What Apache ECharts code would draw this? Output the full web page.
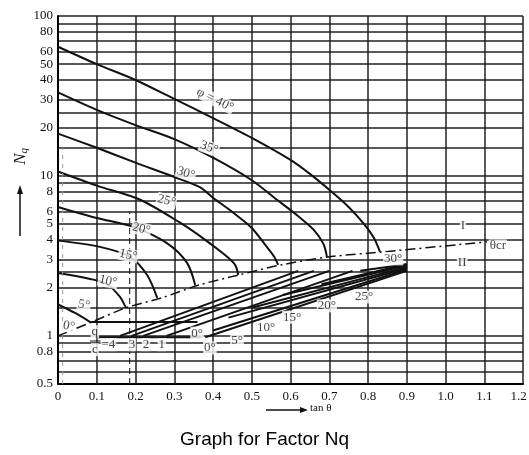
<!DOCTYPE html>
<html style="height: 100%">
<head>
<meta charset="utf-8">
<script src="https://cdn.jsdelivr.net/npm/echarts@6/dist/echarts.min.js"></script>
</head>
<body style="height: 100%; margin: 0; background: #fff">
<div id="container" style="width: 529px; height: 455px"></div>
<script type="text/javascript">
// tick / grid values
var xTicks = [0, 0.1, 0.2, 0.3, 0.4, 0.5, 0.6, 0.7, 0.8, 0.9, 1.0, 1.1, 1.2];
var yLabels = [0.5001, 0.6, 0.8, 1, 2, 3, 4, 5, 6, 8, 10, 20, 30, 40, 50, 60, 80, 100];
var yGrid = [0.6, 0.7, 0.8, 0.9, 1, 1.5, 2, 2.5, 3, 4, 5, 6, 7, 8, 9, 10, 15, 20, 25, 30, 40, 50, 60, 70, 80, 90, 100];

// region I curves: [tan theta, Nq]
var phi40 = [[0, 64.2], [0.1, 50], [0.2, 39.8], [0.3, 30.3], [0.4, 23], [0.5, 17.3], [0.6, 12.6], [0.65, 10.3], [0.7, 8.2], [0.75, 6.4], [0.79, 5.0], [0.815, 4.1], [0.831, 3.35]];
var phi35 = [[0, 33.3], [0.1, 25.9], [0.2, 20.8], [0.3, 17], [0.4, 13], [0.5, 9.4], [0.565, 7.1], [0.62, 5.6], [0.66, 4.6], [0.685, 3.76], [0.694, 3.12]];
var phi30 = [[0, 18.4], [0.1, 15], [0.2, 12.1], [0.3, 9.85], [0.366, 8.5], [0.4, 7.3], [0.45, 5.95], [0.5, 4.73], [0.535, 3.7], [0.558, 3.12], [0.568, 2.78]];
var phi25 = [[0, 10.66], [0.1, 8.7], [0.212, 7.1], [0.315, 5.1], [0.379, 4], [0.431, 3.2], [0.457, 2.78], [0.465, 2.4]];
var phi20 = [[0, 6.4], [0.1, 5.46], [0.194, 4.8], [0.281, 3.8], [0.333, 2.86], [0.354, 2.08]];
var phi15 = [[0, 3.94], [0.108, 3.6], [0.186, 3.12], [0.23, 2.4], [0.256, 1.73]];
var phi10 = [[0, 2.47], [0.083, 2.27], [0.126, 2.11], [0.16, 1.75], [0.175, 1.5]];
var phi5 = [[0, 1.57], [0.044, 1.39], [0.083, 1.22]];
var thetaCr = [[0, 1], [0.087, 1.22], [0.176, 1.5], [0.268, 1.73], [0.364, 2.08], [0.466, 2.4], [0.577, 2.78], [0.7, 3.12], [0.839, 3.35], [1.107, 3.87]];

// region II lines
var ii0 = [[0.38, 0.98], [0.9, 2.55]];
var ii5 = [[0.4, 1.08], [0.9, 2.6]];
var ii10 = [[0.44, 1.3], [0.9, 2.65]];
var ii15 = [[0.5, 1.5], [0.9, 2.7]];
var ii20 = [[0.58, 1.8], [0.9, 2.75]];
var ii25 = [[0.68, 2.1], [0.9, 2.8]];
var ii30 = [[0.78, 2.55], [0.9, 2.8]];
var qc4 = [[0.16, 1.0], [0.62, 2.55]];
var qc3 = [[0.19, 1.0], [0.66, 2.55]];
var qc2 = [[0.22, 1.0], [0.7, 2.55]];
var qc1 = [[0.28, 1.0], [0.76, 2.55]];
var base0 = [[0.1, 0.98], [0.37, 0.98]];
var base5 = [[0.083, 1.22], [0.36, 1.22]];
var dashV = [[0.185, 0.5], [0.185, 6]];
var dashV0 = [[0.012, 0.5], [0.012, 15]];

// curve labels: [tan theta, Nq, text, rotation]
var curveLabels = [
    [0.405, 29.9, 'φ = 40°', -26], [0.39, 15, '35°', -20], [0.33, 10.4, '30°', -18],
    [0.28, 7.0, '25°', -15], [0.215, 4.66, '20°', -14], [0.181, 3.2, '15°', -12],
    [0.129, 2.2, '10°', -12], [0.067, 1.56, '5°', -10], [0.028, 1.15, '0°', -10]
];
var regionLabels = [
    [0.359, 1.04, '0°'], [0.392, 0.84, '0°'], [0.462, 0.93, '5°'], [0.537, 1.12, '10°'],
    [0.604, 1.31, '15°'], [0.694, 1.54, '20°'], [0.79, 1.75, '25°'], [0.865, 3.03, '30°'],
    [1.045, 4.87, 'I'], [1.043, 2.86, 'II'], [1.135, 3.65, 'θcr'],
    [0.095, 1.06, 'q'], [0.095, 0.82, 'c'],
    [0.13, 0.88, '=4'], [0.191, 0.88, '3'], [0.227, 0.88, '2'], [0.268, 0.88, '1']
];

var dom = document.getElementById("container");
var myChart = echarts.init(dom);
var serif = 'Liberation Serif';

function curve(data, smooth) {
    return {
        type: 'line', data: data, showSymbol: false, smooth: smooth || 0,
        lineStyle: {color: '#111', width: 2}, silent: true
    };
}

function labels(list) {
    return {
        type: 'scatter', symbolSize: 0, silent: true, z: 5,
        data: list.map(function (d) {
            return {value: [d[0], d[1]], name: d[2], label: {rotate: d[3] || 0}};
        }),
        label: {
            show: true, position: 'inside', formatter: '{b}', color: '#111',
            fontFamily: serif, fontSize: 13, backgroundColor: '#fff', padding: [0, 1]
        }
    };
}

var series = [
    curve(phi40, 0.3), curve(phi35, 0.3), curve(phi30, 0.3), curve(phi25, 0.3),
    curve(phi20, 0.3), curve(phi15, 0.3), curve(phi10, 0.3), curve(phi5, 0.3),
    curve(ii0), curve(ii5), curve(ii10), curve(ii15), curve(ii20), curve(ii25), curve(ii30),
    curve(qc4), curve(qc3), curve(qc2), curve(qc1), curve(base0), curve(base5),
    labels(curveLabels), labels(regionLabels)
];
var cr = curve(thetaCr, 0.3);
cr.lineStyle.type = [10, 4, 2, 4];
cr.lineStyle.width = 1.5;
series.push(cr);
var dv = curve(dashV);
dv.lineStyle.type = [6, 4];
dv.lineStyle.width = 1;
series.push(dv);
var dv0 = curve(dashV0);
dv0.lineStyle.type = [4, 5];
dv0.lineStyle.width = 1;
dv0.lineStyle.color = '#999';
series.push(dv0);

option = {
    animation: false,
    backgroundColor: '#fff',
    title: {
        text: 'Graph for Factor Nq', left: 'center', top: 425,
        textStyle: {fontFamily: 'Liberation Sans', fontSize: 19, fontWeight: 'normal', color: '#000'}
    },
    grid: {left: 58, right: 6, top: 16, bottom: 71, outerBoundsMode: 'none'},
    xAxis: {
        type: 'value', min: 0, max: 1.2, interval: 0.1,
        axisLine: {lineStyle: {color: '#000', width: 2}},
        axisTick: {show: false},
        axisLabel: {
            fontFamily: serif, fontSize: 13, color: '#111', margin: 6,
            formatter: function (v) {
                if (v === 0) return '0';
                if (v > 1.15) return '{r|' + v.toFixed(1) + '}';
                return v.toFixed(1);
            },
            rich: {r: {fontFamily: serif, fontSize: 13, color: '#111', padding: [0, 9, 0, 0]}}
        },
        splitLine: {lineStyle: {color: '#222', width: 1.5}}
    },
    yAxis: {
        type: 'log', logBase: 10, min: 0.5, max: 100,
        axisLine: {lineStyle: {color: '#000', width: 2}},
        axisTick: {show: false, customValues: yGrid},
        axisLabel: {
            fontFamily: serif, fontSize: 13, color: '#111', margin: 5,
            customValues: yLabels, showMinLabel: true, showMaxLabel: true,
            formatter: function (v) { return String(Math.round(v * 10) / 10); }
        },
        splitLine: {lineStyle: {color: '#222', width: 1.5}}
    },
    graphic: [
        {type: 'text', left: 12, top: 148, rotation: Math.PI / 2,
         style: {text: 'N{q|q}', font: 'italic 17px "Liberation Serif"', fill: '#111',
                 rich: {q: {font: 'italic 11px "Liberation Serif"', verticalAlign: 'bottom', padding: [8, 0, 0, 0]}}}},
        {type: 'line', shape: {x1: 20, y1: 236, x2: 20, y2: 190}, style: {stroke: '#111', lineWidth: 1.5}},
        {type: 'polygon', shape: {points: [[20, 185], [17, 194], [23, 194]]}, style: {fill: '#111'}},
        {type: 'line', shape: {x1: 266, y1: 410, x2: 303, y2: 410}, style: {stroke: '#111', lineWidth: 1.5}},
        {type: 'polygon', shape: {points: [[308, 410], [300, 407], [300, 413]]}, style: {fill: '#111'}},
        {type: 'text', left: 310, top: 403, style: {text: 'tan θ', font: '11px "Liberation Serif"', fill: '#111'}},
        {type: 'line', shape: {x1: 90, y1: 341, x2: 101, y2: 341}, style: {stroke: '#111', lineWidth: 1}}
    ],
    series: series
};

myChart.setOption(option);
</script>
</body>
</html>
